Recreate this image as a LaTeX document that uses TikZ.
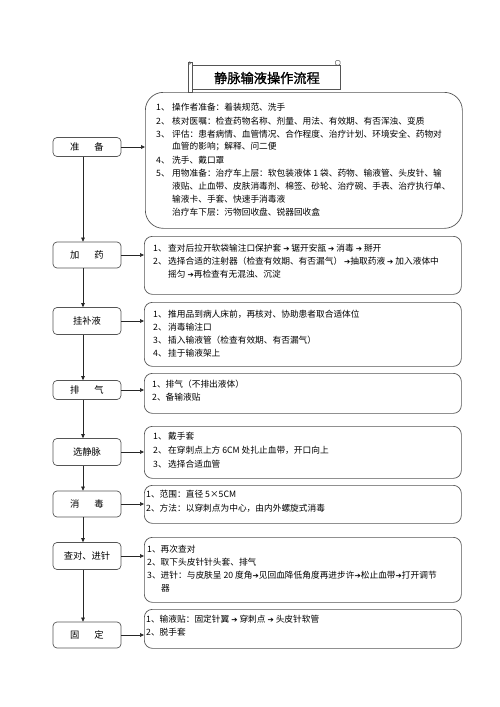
\documentclass[tikz,border=0pt]{standalone}
\usepackage{fontspec}
\setmainfont{Noto Sans CJK SC}
\newfontfamily\dvfont{DejaVu Sans}
\newfontfamily\ttlfont[FakeBold=1.2]{Noto Sans CJK SC}
\usetikzlibrary{arrows.meta}
\newcommand{\ra}{{\dvfont\fontsize{7.5}{7.5}\selectfont ➔}}
\newcommand{\nmw}[1]{\makebox[16pt][l]{#1}}
\newcommand{\nmn}[1]{\makebox[15pt][l]{#1}}
\definecolor{linec}{HTML}{555555}
\begin{document}
\begin{tikzpicture}[x=1pt,y=-1pt,
  lbox/.style={draw=linec, line width=0.7pt, rounded corners=4pt, minimum width=68pt, inner sep=0pt, font=\fontsize{9.3}{9.3}\selectfont},
  rbox/.style={draw=linec, line width=0.7pt, rounded corners=8pt, inner sep=0pt, anchor=north west},
  txt/.style={anchor=west, inner sep=0pt, font=\fontsize{8.7}{10}\selectfont},
  arr/.style={draw=black!85, line width=0.6pt, -{Triangle[length=4pt,width=3.6pt]}}]
\useasboundingbox (0,0) rectangle (500,707);
\fill[white] (0,0) rectangle (500,707);

% title scroll
\draw[linec, line width=0.6pt] (192,65) rectangle (340,89);
\draw[linec, line width=0.6pt] (188,62) rectangle (192,92);
\draw[linec, line width=0.5pt] (189.8,63) circle (1.3);
\draw[linec, line width=0.5pt, rounded corners=1pt] (335.5,60.5) rectangle (340,65);
\node[inner sep=0pt, font=\ttlfont\fontsize{13.2}{13.2}\selectfont] (title) at (267,78) {静脉输液操作流程};

% right boxes
\node[rbox, rounded corners=18pt, minimum width=317pt, minimum height=136pt] (r1) at (145,92) {};
\node[rbox, minimum width=317pt, minimum height=58pt] (r2) at (144,236) {};
\node[rbox, minimum width=317pt, minimum height=64pt] (r3) at (144,302) {};
\node[rbox, minimum width=317pt, minimum height=40pt] (r4) at (144,373) {};
\node[rbox, minimum width=317pt, minimum height=52pt] (r5) at (144,426) {};
\node[rbox, minimum width=317pt, minimum height=38pt] (r6) at (144,485) {};
\node[rbox, minimum width=317pt, minimum height=65pt] (r7) at (144,537) {};
\node[rbox, minimum width=317pt, minimum height=39pt] (r8) at (144,609) {};

% left boxes
\node[lbox, minimum height=19pt] (l1) at (87,147) {准\hspace{15pt}备};
\node[lbox, minimum height=26pt] (l2) at (87,255) {加\hspace{15pt}药};
\node[lbox, minimum height=27pt] (l3) at (87,321) {挂补液};
\node[lbox, minimum height=19pt] (l4) at (87,390) {排\hspace{15pt}气};
\node[lbox, minimum height=27pt] (l5) at (87,452) {选静脉};
\node[lbox, minimum height=26pt] (l6) at (87,504) {消\hspace{15pt}毒};
\node[lbox, minimum height=27pt] (l7) at (87,556) {查对、进针};
\node[lbox, minimum height=26pt] (l8) at (87,635) {固\hspace{15pt}定};

% connectors
\foreach \i in {1,...,8} {\draw[arr] (l\i.east) -- (l\i.east -| r\i.west);}
\foreach \i/\j in {1/2,2/3,3/4,4/5,5/6,6/7,7/8} {\draw[arr] ([xshift=-4pt]l\i.south) -- ([xshift=-4pt]l\j.north);}

% box 1 text
\node[txt] (a1) at (156,107) {\nmw{1、}操作者准备：着装规范、洗手};
\node[txt] (a2) at (156,121) {\nmw{2、}核对医嘱：检查药物名称、剂量、用法、有效期、有否浑浊、变质};
\node[txt] (a3) at (156,134) {\nmw{3、}评估：患者病情、血管情况、合作程度、治疗计划、环境安全、药物对};
\node[txt] (a4) at (172,147) {血管的影响；解释、问二便};
\node[txt] (a5) at (156,160.5) {\nmw{4、}洗手、戴口罩};
\node[txt] (a6) at (156,173.5) {\nmw{5、}用物准备：治疗车上层：软包装液体 1 袋、药物、输液管、头皮针、输};
\node[txt] (a7) at (172,186) {液贴、止血带、皮肤消毒剂、棉签、砂轮、治疗碗、手表、治疗执行单、};
\node[txt] (a8) at (172,199) {输液卡、手套、快速手消毒液};
\node[txt] (a9) at (172,212) {治疗车下层：污物回收盘、锐器回收盒};

% box 2 text
\node[txt] (b1) at (153,248) {\nmn{1、}查对后拉开软袋输注口保护套 \ra\ 锯开安瓿 \ra\ 消毒 \ra\ 掰开};
\node[txt] (b2) at (153,261) {\nmn{2、}选择合适的注射器（检查有效期、有否漏气） \ra 抽取药液 \ra\ 加入液体中};
\node[txt] (b3) at (168,274) {摇匀 \ra 再检查有无混浊、沉淀};

% box 3 text
\node[txt] (c1) at (153,314) {\nmn{1、}推用品到病人床前，再核对、协助患者取合适体位};
\node[txt] (c2) at (153,327) {\nmn{2、}消毒输注口};
\node[txt] (c3) at (153,340) {\nmn{3、}插入输液管（检查有效期、有否漏气）};
\node[txt] (c4) at (153,353) {\nmn{4、}挂于输液架上};

% box 4 text
\node[txt] (d1) at (152,384) {1、排气（不排出液体）};
\node[txt] (d2) at (152,397.5) {2、备输液贴};

% box 5 text
\node[txt] (e1) at (153,436.5) {\nmn{1、}戴手套};
\node[txt] (e2) at (153,450.5) {\nmn{2、}在穿刺点上方 6CM 处扎止血带，开口向上};
\node[txt] (e3) at (153,464) {\nmn{3、}选择合适血管};

% box 6 text
\node[txt] (f1) at (146,494.5) {1、范围：直径 5×5CM};
\node[txt] (f2) at (146,508) {2、方法：以穿刺点为中心，由内外螺旋式消毒};

% box 7 text
\node[txt] (g1) at (147,549.5) {1、再次查对};
\node[txt] (g2) at (147,562) {2、取下头皮针针头套、排气};
\node[txt] (g3) at (147,575) {3、进针：与皮肤呈 20 度角\ra 见回血降低角度再进步许\ra 松止血带\ra 打开调节};
\node[txt] (g4) at (161,588) {器};

% box 8 text
\node[txt] (h1) at (146,619) {1、输液贴：固定针翼 \ra\ 穿刺点 \ra\ 头皮针软管};
\node[txt] (h2) at (146,632.5) {2、脱手套};
\end{tikzpicture}
\end{document}
